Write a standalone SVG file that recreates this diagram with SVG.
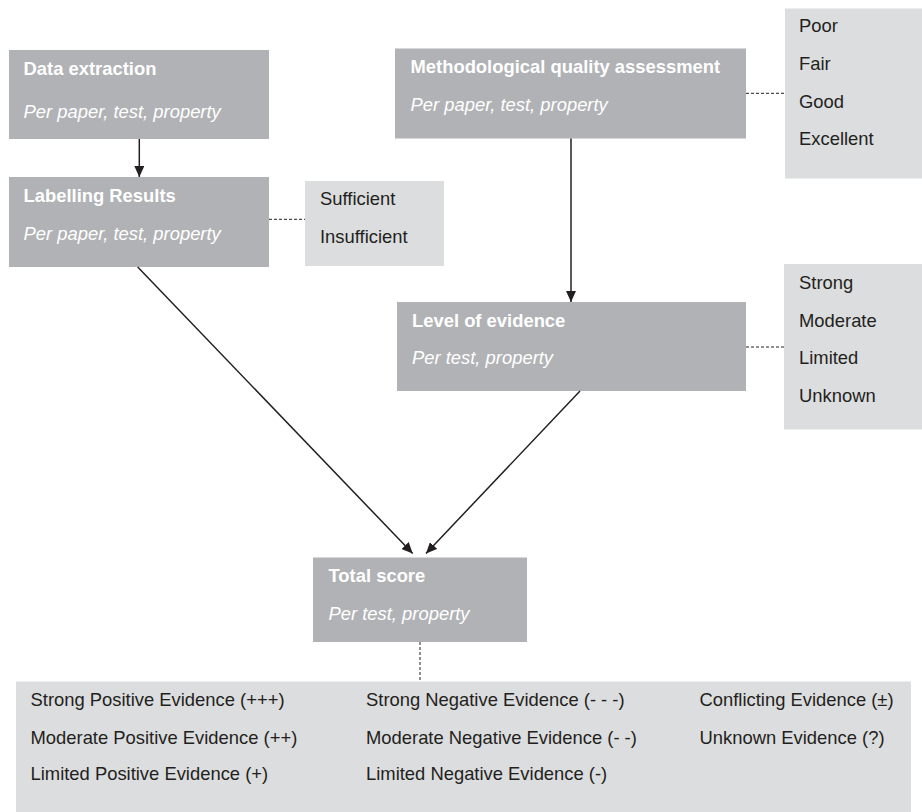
<svg xmlns="http://www.w3.org/2000/svg" width="922" height="812" viewBox="0 0 922 812">
<style>
.node{fill:#B1B2B5}
.opt{fill:#DCDDDF}
.title{font-family:"Liberation Sans",Arial,sans-serif;font-size:18.4px;font-weight:bold;fill:#FFFFFF}
.sub{font-family:"Liberation Sans",Arial,sans-serif;font-size:18.4px;font-style:italic;fill:#FFFFFF}
.item{font-family:"Liberation Sans",Arial,sans-serif;font-size:18.4px;fill:#231F20}
.arrow{stroke:#231F20;stroke-width:1.5;fill:none;marker-end:url(#ah)}
.dash{stroke:#231F20;stroke-width:1;stroke-dasharray:3,2;fill:none}
</style>
<defs>
<marker id="ah" markerUnits="userSpaceOnUse" markerWidth="12" markerHeight="10" refX="11" refY="5" orient="auto">
<path d="M0,0 L11,5 L0,10 Z" fill="#231F20"/>
</marker>
</defs>
<rect width="922" height="812" fill="#FFFFFF"/>

<g id="data-extraction">
<rect class="node" x="9" y="50" width="260" height="89"/>
<text class="title" x="23.5" y="75">Data extraction</text>
<text class="sub" x="23.5" y="118">Per paper, test, property</text>
</g>

<g id="labelling-results">
<rect class="node" x="9" y="177" width="260" height="90"/>
<text class="title" x="23.5" y="202">Labelling Results</text>
<text class="sub" x="23.5" y="239.5">Per paper, test, property</text>
</g>

<g id="labelling-options">
<rect class="opt" x="305" y="181" width="139" height="85"/>
<text class="item" x="320" y="204.5">Sufficient</text>
<text class="item" x="320" y="242.5">Insufficient</text>
</g>

<g id="methodological-quality">
<rect class="node" x="395" y="48.5" width="351" height="90"/>
<text class="title" x="410.5" y="72.5">Methodological quality assessment</text>
<text class="sub" x="410.5" y="110.5">Per paper, test, property</text>
</g>

<g id="quality-options">
<rect class="opt" x="785" y="8.5" width="137" height="170"/>
<text class="item" x="799" y="32">Poor</text>
<text class="item" x="799" y="70">Fair</text>
<text class="item" x="799" y="108">Good</text>
<text class="item" x="799" y="145">Excellent</text>
</g>

<g id="level-of-evidence">
<rect class="node" x="397" y="302" width="349" height="89"/>
<text class="title" x="412" y="327">Level of evidence</text>
<text class="sub" x="412" y="363.5">Per test, property</text>
</g>

<g id="evidence-options">
<rect class="opt" x="784" y="264" width="138" height="165.5"/>
<text class="item" x="799" y="289">Strong</text>
<text class="item" x="799" y="327">Moderate</text>
<text class="item" x="799" y="364">Limited</text>
<text class="item" x="799" y="401.5">Unknown</text>
</g>

<g id="total-score">
<rect class="node" x="313" y="557.5" width="214" height="84.5"/>
<text class="title" x="328.5" y="582">Total score</text>
<text class="sub" x="328.5" y="619.5">Per test, property</text>
</g>

<g id="score-options">
<rect class="opt" x="16" y="681.5" width="895" height="130.5"/>
<text class="item" x="30.5" y="705.5">Strong Positive Evidence (+++)</text>
<text class="item" x="30.5" y="744">Moderate Positive Evidence (++)</text>
<text class="item" x="30.5" y="780">Limited Positive Evidence (+)</text>
<text class="item" x="366" y="705.5">Strong Negative Evidence (- - -)</text>
<text class="item" x="366" y="744">Moderate Negative Evidence (- -)</text>
<text class="item" x="366" y="780">Limited Negative Evidence (-)</text>
<text class="item" x="699.5" y="705.5">Conflicting Evidence (±)</text>
<text class="item" x="699.5" y="744">Unknown Evidence (?)</text>
</g>

<g id="connectors">
<line class="arrow" x1="139.3" y1="139" x2="139.3" y2="177"/>
<line class="arrow" x1="571" y1="138.5" x2="571" y2="302"/>
<line class="arrow" x1="137.7" y1="267" x2="412.7" y2="553.5"/>
<line class="arrow" x1="580" y1="391" x2="426" y2="553.5"/>
<line class="dash" x1="269" y1="219.3" x2="305" y2="219.3"/>
<line class="dash" x1="746" y1="93.3" x2="785" y2="93.3"/>
<line class="dash" x1="746" y1="347" x2="784" y2="347"/>
<line class="dash" x1="420" y1="642" x2="420" y2="681.5"/>
</g>
</svg>
